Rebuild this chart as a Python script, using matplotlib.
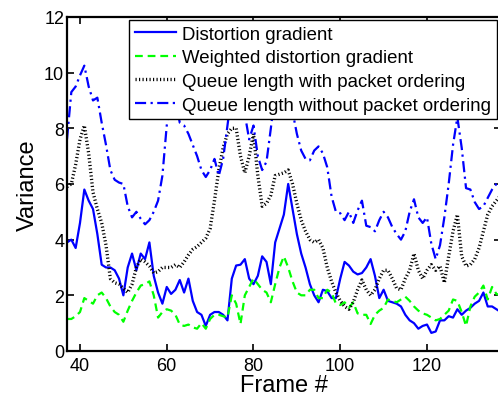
import numpy as np
import matplotlib
matplotlib.use("Agg")
import matplotlib.pyplot as plt

plt.rcParams["font.family"] = ["Liberation Sans", "DejaVu Sans"]

frames = np.arange(37, 138)

distortion_gradient = [
    3.9, 4.0, 3.7, 4.6, 5.8, 5.4, 5.1, 4.2, 3.1, 3.0,
    3.0, 2.9, 2.6, 2.0, 3.0, 3.5, 2.9, 3.5, 3.3, 3.9,
    2.7, 2.1, 1.7, 2.3, 2.05, 2.2, 2.55, 2.1, 2.6, 1.8,
    1.4, 1.3, 0.9, 1.3, 1.4, 1.4, 1.3, 1.1, 2.6, 3.07,
    3.1, 3.3, 2.6, 2.4, 2.7, 3.4, 3.2, 2.4, 3.9, 4.4,
    4.9, 6.0, 5.1, 4.2, 3.5, 3.0, 2.4, 2.0, 1.75, 2.2,
    2.15, 1.9, 1.9, 2.6, 3.2, 3.07, 2.85, 2.75, 2.8, 3.0,
    3.3, 2.7, 1.9, 2.2, 1.8, 1.75, 1.7, 1.6, 1.3, 1.1,
    1.0, 0.8, 0.9, 0.95, 0.65, 0.7, 1.1, 1.1, 1.25, 1.2,
    1.5, 1.3, 1.45, 1.55, 1.7, 1.8, 2.1, 1.6, 1.6, 1.5,
    1.4,
]

weighted_gradient = [
    1.15, 1.15, 1.25, 1.4, 1.9, 1.8, 1.7, 2.0, 2.1, 1.9,
    1.6, 1.4, 1.3, 1.05, 1.45, 1.8, 2.1, 2.35, 2.4, 2.5,
    2.0, 1.2, 1.4, 1.5, 1.45, 1.3, 0.95, 0.9, 0.95, 0.85,
    0.8, 1.0, 0.8, 1.15, 1.3, 1.3, 1.25, 1.2, 2.0, 1.7,
    0.97, 2.0, 2.3, 2.6, 2.4, 2.2, 2.1, 1.75, 2.4, 3.0,
    3.4, 3.0, 2.5, 2.1, 2.0, 2.0, 2.2, 2.2, 1.9, 1.9,
    2.2, 2.1, 1.7, 1.65, 1.75, 1.55, 1.75, 1.35, 1.3, 1.3,
    0.97, 1.3, 1.45, 1.55, 1.85, 1.8, 1.75, 1.85, 1.95, 1.8,
    1.6, 1.45, 1.35, 1.3, 1.2, 1.1, 1.15, 1.3, 1.45, 1.85,
    1.8, 1.4, 0.9, 1.6, 1.95, 2.1, 2.35, 1.85, 2.3, 2.05,
    2.0,
]

queue_with_ordering = [
    5.9, 6.0, 6.7, 7.6, 8.1, 7.1, 5.7, 5.1, 4.6, 3.8,
    2.6, 2.45, 2.4, 2.25, 2.1, 2.4, 3.0, 3.3, 3.2, 3.05,
    2.8, 2.85, 3.0, 3.0, 3.0, 3.1, 3.0, 3.2, 3.45, 3.65,
    3.75, 3.9, 4.05, 4.4, 5.4, 6.5, 7.3, 7.8, 8.0, 8.0,
    7.0, 6.4, 7.0, 7.8, 6.3, 5.2, 5.3, 5.6, 6.3, 6.35,
    6.4, 6.5, 6.0, 5.3, 4.7, 4.3, 4.0, 3.9, 4.0, 3.7,
    3.0, 2.5, 2.1, 1.8, 1.6, 1.5, 1.75, 2.2, 2.55, 2.2,
    2.0, 2.2, 2.6, 2.9, 2.9, 2.6, 2.25, 2.2, 2.6, 2.9,
    3.5, 2.9, 2.6, 2.9, 3.1, 2.9, 3.05, 2.45, 3.4, 4.3,
    4.9, 3.4, 3.05, 3.1, 3.3, 3.7, 4.3, 4.9, 5.2, 5.4,
    5.6,
]

queue_without_ordering = [
    7.6, 9.3, 9.5, 9.9, 10.25, 9.5, 9.0, 9.1, 8.2, 7.4,
    6.5, 6.15, 6.05, 6.0, 5.2, 4.8, 5.0, 4.75, 4.55, 4.7,
    5.0, 5.4, 6.3, 8.1, 9.2, 9.0, 8.2, 8.1, 7.8, 7.4,
    7.0, 6.5, 6.25, 6.5, 6.9, 6.3, 6.9, 8.1, 9.3, 9.6,
    9.0, 8.5, 7.6, 8.1, 7.0, 6.5, 6.8, 8.0, 9.3, 9.8,
    9.5, 9.2, 8.6, 7.8, 7.2, 6.9, 6.85, 7.2, 7.35, 7.1,
    6.6, 5.55, 5.0, 4.95, 4.7, 5.0, 4.6, 5.05, 5.4, 4.5,
    4.45, 4.3, 4.7, 5.0, 4.8, 4.45, 4.2, 4.0, 4.3, 5.0,
    5.45, 4.8, 4.6, 4.8, 3.85, 3.3, 3.8, 4.8, 6.0, 7.4,
    8.4, 7.3, 5.85, 5.8, 5.35, 5.1, 5.2, 5.5, 5.8, 6.0,
    6.1,
]

labels = [
    "Distortion gradient",
    "Weighted distortion gradient",
    "Queue length with packet ordering",
    "Queue length without packet ordering",
]

fig = plt.figure(figsize=(4.98, 4.02), dpi=100)
ax = fig.add_axes([0.1345, 0.1244, 0.871, 0.831])

ax.plot(frames, distortion_gradient, color="#0000ff", lw=1.6, ls="-", label=labels[0])
ax.plot(frames, weighted_gradient, color="#00ff00", lw=1.6, ls=(0, (3.5, 2.2)), label=labels[1])
ax.plot(frames, queue_with_ordering, color="black", lw=2.4, ls=(0, (0.35, 0.7)), label=labels[2])
ax.plot(frames, queue_without_ordering, color="#0000ff", lw=1.6, ls=(0, (5, 2, 1, 2)), label=labels[3])

ax.set_xlim(37, 137)
ax.set_ylim(0, 12)
ax.set_xticks([40, 60, 80, 100, 120])
ax.set_yticks([0, 2, 4, 6, 8, 10, 12])
ax.tick_params(direction="in", length=5, width=1.2, labelsize=13,
               top=True, right=True)
ax.tick_params(axis="x", pad=4)
ax.tick_params(axis="y", pad=2)
for s in ax.spines.values():
    s.set_linewidth(1.6)

ax.set_xlabel("Frame #", fontsize=17, labelpad=0)
ax.set_ylabel("Variance", fontsize=17, labelpad=4)

leg = ax.legend(loc="upper left", bbox_to_anchor=(0.143, 0.991), borderaxespad=0,
                fontsize=13.4, fancybox=False, framealpha=1, edgecolor="black",
                handlelength=2.25, handletextpad=0.3, labelspacing=0.36,
                borderpad=0.3)
leg.get_frame().set_linewidth(1.0)

fig.savefig("out.png", dpi=100)
